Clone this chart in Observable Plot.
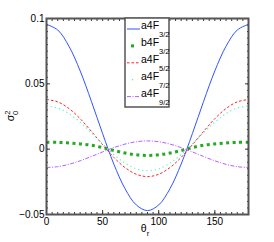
<!DOCTYPE html>
<html><head><meta charset="utf-8">
<script src="https://cdn.jsdelivr.net/npm/d3@7"></script>
<script src="https://cdn.jsdelivr.net/npm/@observablehq/plot@0.6"></script>
<style>
body{margin:0;background:#fff;}
svg{font-family:"Liberation Sans",Arial,sans-serif;}
</style>
</head><body><div id="chart"></div>
<script>
const theta = [0,10,20,30,40,50,60,70,80,90,100,110,120,130,140,150,160,170,180];
const a4F32 = [0.0955,0.0912,0.0788,0.0599,0.0366,0.0119,-0.0114,-0.0303,-0.0427,-0.047,-0.0427,-0.0303,-0.0114,0.0119,0.0366,0.0599,0.0788,0.0912,0.0955];
const b4F32 = [0.0053,0.0052,0.0047,0.0040,0.0030,0.0012,-0.0010,-0.0030,-0.0043,-0.0048,-0.0043,-0.0030,-0.0010,0.0012,0.0030,0.0040,0.0047,0.0052,0.0053];
const a4F52 = [0.038,0.0362,0.0311,0.0233,0.0136,0.0034,-0.0063,-0.0141,-0.0192,-0.021,-0.0192,-0.0141,-0.0063,0.0034,0.0136,0.0233,0.0311,0.0362,0.038];
const a4F72 = [0.033,0.0315,0.0272,0.0206,0.0125,0.004,-0.0041,-0.0107,-0.015,-0.0165,-0.015,-0.0107,-0.0041,0.004,0.0125,0.0206,0.0272,0.0315,0.033];
const a4F92 = [-0.014,-0.0134,-0.0116,-0.0089,-0.0056,-0.0021,0.0012,0.0039,0.0057,0.0063,0.0057,0.0039,0.0012,-0.0021,-0.0056,-0.0089,-0.0116,-0.0134,-0.014];
const xTicks = [0,50,100,150];
const yTicks = [-0.05,0,0.05,0.1];
const yTickLabels = ["\u22120.05","0","0.05","0.1"];

const series = [
  {base:"a4F", sub:"3/2", vals:a4F32, stroke:"#2f55ff", width:1, dash:null, legend:"line"},
  {base:"b4F", sub:"3/2", vals:b4F32, stroke:"#22aa22", width:3, dash:"3 3.5", legend:"dot"},
  {base:"a4F", sub:"5/2", vals:a4F52, stroke:"#ff2020", width:1, dash:"2.5 2", legend:"line"},
  {base:"a4F", sub:"7/2", vals:a4F72, stroke:"#66eec8", width:1.2, dash:"1.2 3", legend:"dot"},
  {base:"a4F", sub:"9/2", vals:a4F92, stroke:"#b060ff", width:1, dash:"4 1.5 1 1.5", legend:"line"}
];

const lineMarks = series.map(s => Plot.line(theta.map((t,i)=>({t, v:s.vals[i]})), {
  x:"t", y:"v", curve:"catmull-rom", stroke:s.stroke, strokeWidth:s.width,
  strokeDasharray:s.dash, strokeLinecap:"butt"
}));

const minorX = d3.range(0,181,5);
const minorY = d3.range(-0.05,0.1001,0.005);

const svg = Plot.plot({
  width:274, height:242,
  marginLeft:46, marginRight:26, marginTop:18, marginBottom:28,
  style:{fontSize:"10px", fontFamily:"Liberation Sans, Arial, sans-serif", color:"#000", background:"#fff"},
  x:{domain:[0,180]},
  y:{domain:[-0.05,0.1]},
  marks:[
    ...lineMarks,
    Plot.axisX({anchor:"bottom", ticks:minorX, tickSize:-2, tickFormat:()=>"", label:null, stroke:"#333"}),
    Plot.axisX({anchor:"top", ticks:minorX, tickSize:-2, tickFormat:()=>"", label:null, stroke:"#333"}),
    Plot.axisY({anchor:"left", ticks:minorY, tickSize:-2, tickFormat:()=>"", label:null, stroke:"#333"}),
    Plot.axisY({anchor:"right", ticks:minorY, tickSize:-2, tickFormat:()=>"", label:null, stroke:"#333"}),
    Plot.axisX({anchor:"bottom", ticks:xTicks, tickSize:-4, tickPadding:7, label:null, stroke:"#333", fill:"#000"}),
    Plot.axisY({anchor:"left", ticks:yTicks, tickSize:-4, tickPadding:6, label:null, stroke:"#333", fill:"#000",
      tickFormat:d=>yTickLabels[yTicks.indexOf(d)]}),
    Plot.axisY({anchor:"right", ticks:yTicks, tickSize:-4, tickFormat:()=>"", label:null, stroke:"#333"}),
    Plot.frame({stroke:"#555", strokeWidth:2})
  ]
});

const g = d3.select(svg).append("g");
// legend
const lx = 125, ly = 18, lw = 44, lh = 89;
g.append("rect").attr("x",lx).attr("y",ly).attr("width",lw).attr("height",lh)
  .attr("fill","#fff").attr("stroke","#555").attr("stroke-width",1.5);
series.forEach((s,i)=>{
  const y = 29 + i*16.9;
  if (s.legend==="line") {
    g.append("line").attr("x1",127).attr("x2",140).attr("y1",y).attr("y2",y)
      .attr("stroke",s.stroke).attr("stroke-width",s.width).attr("stroke-dasharray",s.dash);
  } else {
    const sz = s.width>2?3:1.3;
    g.append("rect").attr("x",132.5-sz/2).attr("y",y-sz/2).attr("width",sz).attr("height",sz).attr("fill",s.stroke);
  }
  const t = g.append("text").attr("x",141).attr("y",y).attr("font-size",10.5).attr("fill","#000").attr("text-anchor","start");
  t.append("tspan").text(s.base);
  t.append("tspan").attr("font-size",7.5).attr("dy",8).text(s.sub);
});
// y label
const yl = g.append("text").attr("transform","translate(14,116) rotate(-90)").attr("text-anchor","middle").attr("font-size",10.5);
yl.append("tspan").text("\u03c3");
yl.append("tspan").attr("font-size",7.5).attr("dy",-4).text("2");
yl.append("tspan").attr("font-size",7.5).attr("dx",-4.2).attr("dy",8).text("0");
// x label
const xl = g.append("text").attr("x",145).attr("y",232).attr("text-anchor","middle").attr("font-size",10.5);
xl.append("tspan").text("\u03b8");
xl.append("tspan").attr("font-size",7.5).attr("dy",4).text("r");

document.getElementById("chart").append(svg);
</script>
</body></html>
